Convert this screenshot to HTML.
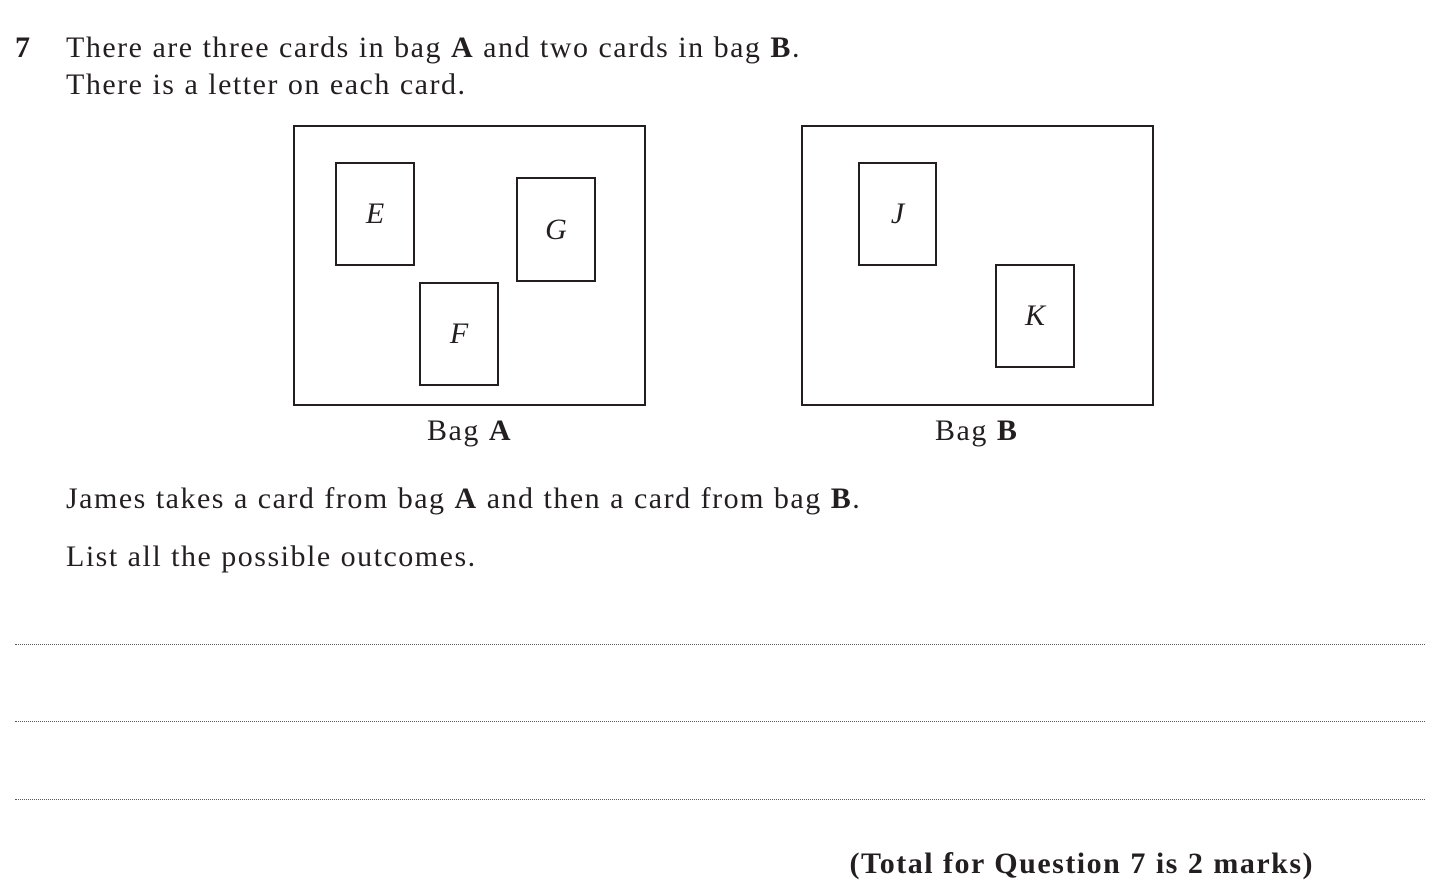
<!DOCTYPE html>
<html><head><meta charset="utf-8"><style>
body{margin:0;width:1446px;height:882px;background:#fff;position:relative;overflow:hidden;font-family:"Liberation Serif",serif;color:#231f20}
.t{position:absolute;font-size:30px;line-height:1;white-space:nowrap;letter-spacing:1.5px}
.box{position:absolute;border:2px solid #231f20;box-sizing:border-box}
.card{position:absolute;border:2px solid #231f20;box-sizing:border-box;font-style:italic;font-size:30px;display:flex;align-items:center;justify-content:center}
.dots{position:absolute;left:15px;width:1410px;border-top:1.5px dotted #555}
</style></head><body>
<div class="t" style="left:15px;top:33px;font-weight:bold">7</div>
<div class="t" style="left:66px;top:33px">There are three cards in bag <b>A</b> and two cards in bag <b>B</b>.</div>
<div class="t" style="left:66px;top:70px">There is a letter on each card.</div>

<div class="box" style="left:293px;top:125px;width:353px;height:281px"></div>
<div class="card" style="left:335px;top:162px;width:80px;height:104px">E</div>
<div class="card" style="left:516px;top:177px;width:80px;height:105px">G</div>
<div class="card" style="left:419px;top:282px;width:80px;height:104px">F</div>
<div class="t" style="left:427px;top:416px">Bag <b>A</b></div>

<div class="box" style="left:801px;top:125px;width:353px;height:281px"></div>
<div class="card" style="left:858px;top:162px;width:79px;height:104px">J</div>
<div class="card" style="left:995px;top:264px;width:80px;height:104px">K</div>
<div class="t" style="left:935px;top:416px">Bag <b>B</b></div>

<div class="t" style="left:66px;top:484px">James takes a card from bag <b>A</b> and then a card from bag <b>B</b>.</div>
<div class="t" style="left:66px;top:542px">List all the possible outcomes.</div>

<div class="dots" style="top:644px"></div>
<div class="dots" style="top:721px"></div>
<div class="dots" style="top:799px"></div>

<div class="t" style="right:132px;top:849px;font-weight:bold">(Total for Question 7 is 2 marks)</div>
</body></html>
